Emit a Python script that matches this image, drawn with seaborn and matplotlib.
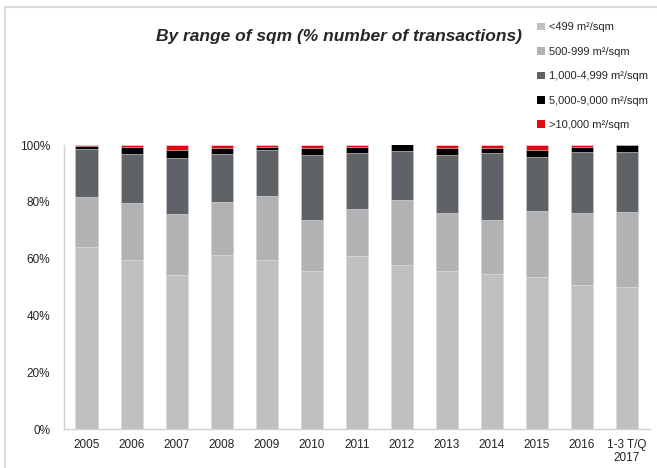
import numpy as np
import pandas as pd
import matplotlib
matplotlib.use("Agg")
from matplotlib import pyplot as plt
from matplotlib.patches import Patch, Rectangle
import seaborn as sns

years = ["2005", "2006", "2007", "2008", "2009", "2010", "2011", "2012",
         "2013", "2014", "2015", "2016", "1-3 T/Q\n2017"]
# share of transactions (%) per sqm range
lt499 = [64.2, 59.6, 54.2, 61.3, 59.4, 55.7, 60.9, 57.7, 55.6, 54.7, 53.5, 50.7, 50.0]
r500_999 = [17.5, 20.0, 21.4, 18.5, 22.6, 17.8, 16.6, 22.8, 20.3, 18.8, 23.3, 25.5, 26.5]
r1000_4999 = [16.9, 17.2, 19.9, 17.0, 16.3, 23.0, 19.6, 17.4, 20.5, 23.6, 19.0, 21.3, 21.0]
r5000_9000 = [1.0, 2.4, 2.7, 2.0, 0.9, 2.3, 2.2, 2.3, 2.4, 1.7, 2.4, 1.9, 2.5]
gt10000 = [0.4, 0.8, 1.8, 1.2, 0.8, 1.2, 0.7, 0.0, 1.2, 1.2, 1.8, 0.6, 0.0]

labels = ["<499 m²/sqm", "500-999 m²/sqm", "1,000-4,999 m²/sqm",
          "5,000-9,000 m²/sqm", ">10,000 m²/sqm"]
colors = ["#c0c0c0", "#b1b2b4", "#5f6266", "#000000", "#e30613"]

sns.set_style("white")
plt.rcParams["font.family"] = ["Liberation Sans", "DejaVu Sans"]

df = pd.DataFrame({"year": years})
series = [lt499, r500_999, r1000_4999, r5000_9000, gt10000]
cum = np.cumsum(np.array(series), axis=0) / 100.0

fig = plt.figure(figsize=(6.57, 4.68), dpi=100)
ax = fig.add_axes([64 / 657, 39 / 468, 585.5 / 657, 284 / 468])

# draw cumulative totals from top to bottom so each layer covers the previous
for i in range(len(series) - 1, -1, -1):
    df["v"] = cum[i]
    sns.barplot(data=df, x="year", y="v", color=colors[i], width=0.49,
                saturation=1, edgecolor="#e8e8e8", linewidth=0.4, ax=ax)

ax.set_xlim(-0.5, len(years) - 0.5)
ax.set_ylim(0, 1)
ax.set_xlabel("")
ax.set_ylabel("")
ax.set_yticks(np.arange(0, 1.01, 0.2))
ax.set_yticklabels(["%d%%" % v for v in range(0, 101, 20)], fontsize=8.5, color="#222222")
ax.set_xticks(range(len(years)))
ax.set_xticklabels(years, fontsize=8.5, color="#222222", linespacing=1.1)
ax.tick_params(axis="x", length=0, pad=7)
ax.tick_params(axis="y", length=0, pad=10)
# small tick marks between categories
ax.set_xticks(np.arange(0.5, len(years) - 0.5, 1.0), minor=True)
ax.tick_params(axis="x", which="minor", length=4, color="#bfbfbf", width=0.8)

for s in ["top", "right"]:
    ax.spines[s].set_visible(False)
for s in ["left", "bottom"]:
    ax.spines[s].set_color("#d0d0d0")
    ax.spines[s].set_linewidth(1.0)

fig.text(0.516, 0.922, "By range of sqm (% number of transactions)",
         ha="center", va="center", fontsize=12.5, fontweight="bold",
         fontstyle="italic")

handles = [Patch(facecolor=c, edgecolor="none") for c in colors]
fig.legend(handles, labels, loc="upper left", bbox_to_anchor=(533 / 657, 1 - 18 / 468),
           frameon=False, fontsize=8, handlelength=0.7, handleheight=0.7,
           handletextpad=0.35, labelspacing=1.3, borderaxespad=0)

# light frame around the figure (top/left visible)
fig.patches.append(Rectangle((5 / 657, -0.05), 1.1, 1 - 7 / 468 + 0.05,
                             transform=fig.transFigure, fill=False,
                             edgecolor="#dcdcdc", linewidth=1.5))

plt.savefig("out.png", dpi=100)
